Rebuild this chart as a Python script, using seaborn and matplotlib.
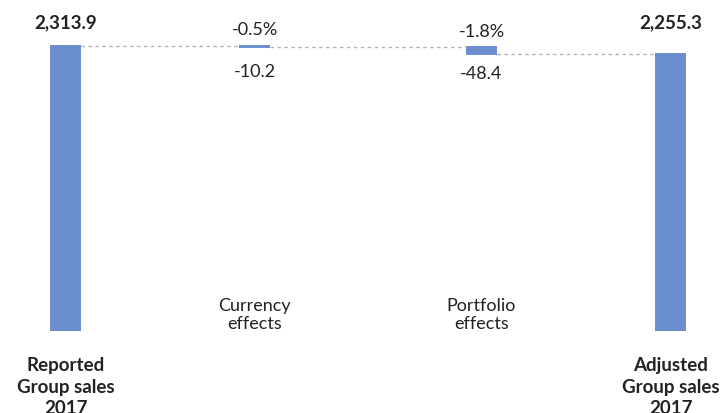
import matplotlib
matplotlib.use("Agg")
import matplotlib.pyplot as plt
import seaborn as sns
import numpy as np

# values
labels = ["Reported\nGroup sales\n2017", "Currency\neffects",
          "Portfolio\neffects", "Adjusted\nGroup sales\n2017"]
start_total = 2313.9
end_total = 2255.3
changes = [-10.2, -48.4]
change_pct = ["-0.5%", "-1.8%"]

sns.set_style("white")
plt.rcParams["font.family"] = ["Lato", "DejaVu Sans"]

blue = "#6a8fcc"
ink = "#222222"

# running totals -> floating bars
levels = start_total + np.concatenate([[0], np.cumsum(changes)])
heights = [start_total] + [abs(c) for c in changes] + [end_total]
bottoms = [0] + list(levels[1:]) + [0]
tops = [b + h for b, h in zip(bottoms, heights)]

# the original spaces its columns unevenly
pos = [0, 5, 11, 16]
bar_w = 0.82

fig = plt.figure(figsize=(7.22, 4.14), dpi=100)
ax = fig.add_axes([0, 0.199, 1, 0.777])
# thin edge in the bar colour keeps the tiny currency bar visible
sns.barplot(x=pos, y=heights, bottom=bottoms, native_scale=True,
            width=(bar_w - 0.05) / 5, color=blue, saturation=1, errorbar=None,
            edgecolor=blue, linewidth=1.4, ax=ax)

ax.set_xlim(-1.733, 17.362)
ax.set_ylim(2313.9 - 284.7 * 7.5, 2313.9 + 37 * 7.5)

# dashed connectors between the bars
for i in range(3):
    ax.plot([pos[i] + bar_w / 2, pos[i + 1] - bar_w / 2], [levels[i], levels[i]],
            color="#b3b3b3", lw=1, linestyle=(0, (2.5, 2.5)))

# totals
for x, val in [(pos[0], start_total), (pos[3], end_total)]:
    ax.annotate(f"{val:,.1f}", xy=(x, start_total), xytext=(0, 17.2),
                textcoords="offset points", ha="center", va="center",
                fontsize=13.5, fontweight="bold", color=ink)

# changes
for i, (c, p) in enumerate(zip(changes, change_pct), start=1):
    ax.annotate(p, xy=(pos[i], tops[i]), xytext=(0, 11.9),
                textcoords="offset points", ha="center", va="center",
                fontsize=13, color=ink)
    ax.annotate(f"{c:.1f}", xy=(pos[i], tops[i]), xytext=(0, -18.4),
                textcoords="offset points", ha="center", va="center",
                fontsize=13, color=ink)

# category labels
for i, lab in enumerate(labels):
    if i in (0, 3):
        ax.annotate(lab, xy=(pos[i], 0), xycoords=("data", "axes fraction"),
                    xytext=(0, -18.5), textcoords="offset points",
                    ha="center", va="top", fontsize=13.5, fontweight="bold",
                    color=ink, linespacing=1.3, annotation_clip=False)
    else:
        ax.annotate(lab, xy=(pos[i], 0), xycoords=("data", "axes fraction"),
                    xytext=(0, 12), textcoords="offset points",
                    ha="center", va="center", fontsize=13, color=ink,
                    linespacing=1.1)

ax.set_xticks([])
ax.set_yticks([])
ax.set_xlabel("")
sns.despine(ax=ax, left=True, bottom=True)

fig.savefig("out.png", dpi=100)
